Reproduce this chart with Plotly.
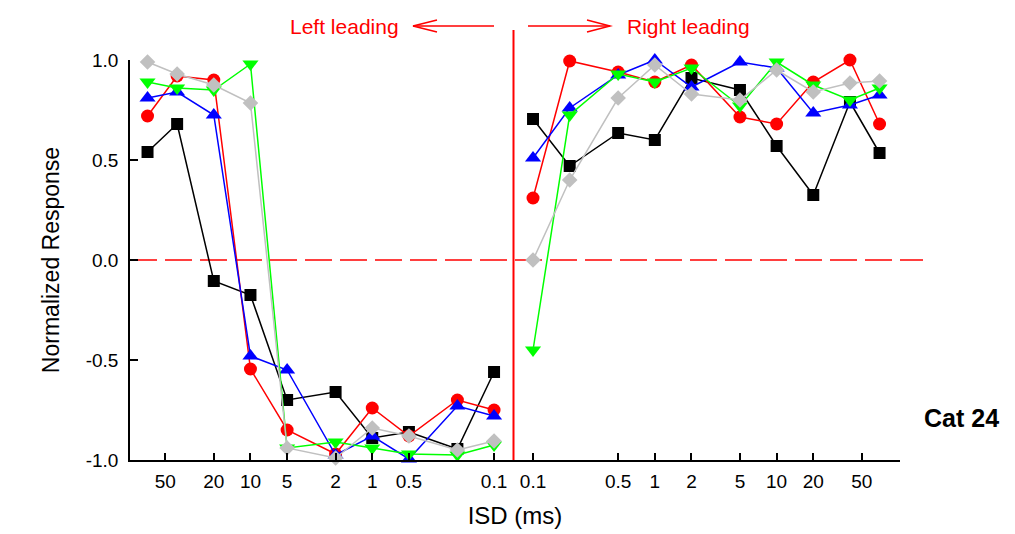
import numpy as np
import plotly.graph_objects as go

# ---------------- data ----------------
isd_left = [70, 40, 20, 10, 5, 2, 1, 0.5, 0.2, 0.1]     # left leading (ms)
isd_right = [0.1, 0.2, 0.5, 1, 2, 5, 10, 20, 40, 70]    # right leading (ms)

black_left = [0.54, 0.68, -0.105, -0.175, -0.70, -0.66, -0.89, -0.86, -0.945, -0.56]
black_right = [0.705, 0.47, 0.635, 0.60, 0.91, 0.85, 0.57, 0.325, 0.79, 0.535]

red_left = [0.72, 0.92, 0.90, -0.545, -0.85, -0.97, -0.74, -0.88, -0.70, -0.75]
red_right = [0.31, 0.995, 0.94, 0.89, 0.975, 0.715, 0.68, 0.89, 1.0, 0.68]

blue_left = [0.81, 0.84, 0.725, -0.48, -0.55, -0.975, -0.88, -0.995, -0.73, -0.78]
blue_right = [0.51, 0.76, 0.925, 1.0, 0.865, 0.99, 0.96, 0.735, 0.775, 0.825]

green_left = [0.89, 0.86, 0.85, 0.98, -0.94, -0.91, -0.94, -0.97, -0.975, -0.925]
green_right = [-0.45, 0.725, 0.93, 0.89, 0.96, 0.77, 0.99, 0.875, 0.80, 0.86]

gray_left = [0.99, 0.93, 0.875, 0.785, -0.94, -0.99, -0.84, -0.88, -0.95, -0.905]
gray_right = [0.0, 0.40, 0.81, 0.975, 0.83, 0.80, 0.95, 0.84, 0.885, 0.895]

tick_left = [50, 20, 10, 5, 2, 1, 0.5, 0.1]
tick_right = [0.1, 0.5, 1, 2, 5, 10, 20, 50]
ytick_vals = [-1.0, -0.5, 0.0, 0.5, 1.0]

# ---------------- split log axis ----------------
GAP = 0.16  # decades between the centre line and 0.1 ms


def pos_left(v):
    return [-(GAP + np.log10(x) + 1.0) for x in v]


def pos_right(v):
    return [GAP + np.log10(x) + 1.0 for x in v]


FONT = "Liberation Sans, Arial, Helvetica, sans-serif"

series = [
    ("black", black_left, black_right, "square", 12, "#000000"),
    ("red", red_left, red_right, "circle", 13, "#FF0000"),
    ("blue", blue_left, blue_right, "triangle-up", 14, "#0000FF"),
    ("green", green_left, green_right, "triangle-down", 14, "#00FF00"),
    ("gray", gray_left, gray_right, "diamond", 12, "#C0C0C0"),
]

fig = go.Figure()
for name, yl, yr, sym, size, col in series:
    xs = pos_left(isd_left) + [None] + pos_right(isd_right)
    ys = list(yl) + [None] + list(yr)
    fig.add_trace(go.Scatter(
        x=xs, y=ys, mode="lines+markers", name=name,
        line=dict(color=col, width=1.5),
        marker=dict(symbol=sym, size=size, color=col, line=dict(width=0)),
        cliponaxis=False, connectgaps=False, showlegend=False,
    ))

tickvals = pos_left(tick_left) + pos_right(tick_right)
ticktext = [str(t) for t in tick_left] + [str(t) for t in tick_right]

W, H = 1015, 534
ML, MR, MT, MB = 130, 115, 60, 74
PW, PH = W - ML - MR, H - MT - MB


def px(xp):
    return (xp - ML) / PW


def py(yp):
    return (H - MB - yp) / PH


fig.update_layout(
    width=W, height=H,
    margin=dict(l=ML, r=MR, t=MT, b=MB, pad=0),
    paper_bgcolor="white", plot_bgcolor="white",
    font=dict(family=FONT, size=19, color="black"),
    xaxis=dict(
        range=[-3.149, 3.173], tickvals=tickvals, ticktext=ticktext,
        showline=True, linecolor="black", linewidth=1.5, mirror=False,
        ticks="inside", ticklen=7, tickwidth=1.5, tickcolor="black",
        showgrid=False, zeroline=False,
        tickfont=dict(size=19, family=FONT), ticklabelstandoff=3,
        title=dict(text="ISD (ms)", font=dict(size=24, family=FONT), standoff=17),
        automargin=False,
    ),
    yaxis=dict(
        range=[-1.0, 1.0], tickvals=ytick_vals,
        ticktext=["%.1f" % v for v in ytick_vals],
        showline=True, linecolor="black", linewidth=1.5,
        ticks="inside", ticklen=8, tickwidth=1.5, tickcolor="black",
        showgrid=False, zeroline=False,
        tickfont=dict(size=19, family=FONT), ticklabelstandoff=6,
        title=dict(text="Normalized Response", font=dict(size=23, family=FONT), standoff=20),
        automargin=False,
    ),
)

RED = "#FF0000"
shapes = [
    # horizontal dashed zero line
    dict(type="line", xref="paper", yref="y", x0=0, x1=px(923), y0=0, y1=0,
         line=dict(color=RED, width=1.5, dash="27px,8px"), layer="below"),
    # centre vertical line
    dict(type="line", xref="paper", yref="paper", x0=px(513.5), x1=px(513.5),
         y0=py(460), y1=py(30), line=dict(color=RED, width=2)),
    # left arrow
    dict(type="line", xref="paper", yref="paper", x0=px(494), x1=px(413),
         y0=py(26), y1=py(26), line=dict(color=RED, width=1.5)),
    dict(type="path", xref="paper", yref="paper",
         path="M %f %f L %f %f L %f %f" % (px(437), py(20), px(413), py(26), px(437), py(32)),
         line=dict(color=RED, width=1.5)),
    # right arrow
    dict(type="line", xref="paper", yref="paper", x0=px(528), x1=px(610),
         y0=py(26), y1=py(26), line=dict(color=RED, width=1.5)),
    dict(type="path", xref="paper", yref="paper",
         path="M %f %f L %f %f L %f %f" % (px(587), py(20), px(610), py(26), px(587), py(32)),
         line=dict(color=RED, width=1.5)),
]
fig.update_layout(shapes=shapes)

fig.add_annotation(text="Left leading", xref="paper", yref="paper",
                   x=px(401), y=py(26), xanchor="right", yanchor="middle",
                   showarrow=False, font=dict(color=RED, size=21, family=FONT))
fig.add_annotation(text="Right leading", xref="paper", yref="paper",
                   x=px(625), y=py(26), xanchor="left", yanchor="middle",
                   showarrow=False, font=dict(color=RED, size=21, family=FONT))
fig.add_annotation(text="<b>Cat 24</b>", xref="paper", yref="paper",
                   x=px(962), y=py(418), xanchor="center", yanchor="middle",
                   showarrow=False, font=dict(color="black", size=25, family=FONT))

fig.write_html("out.html")
